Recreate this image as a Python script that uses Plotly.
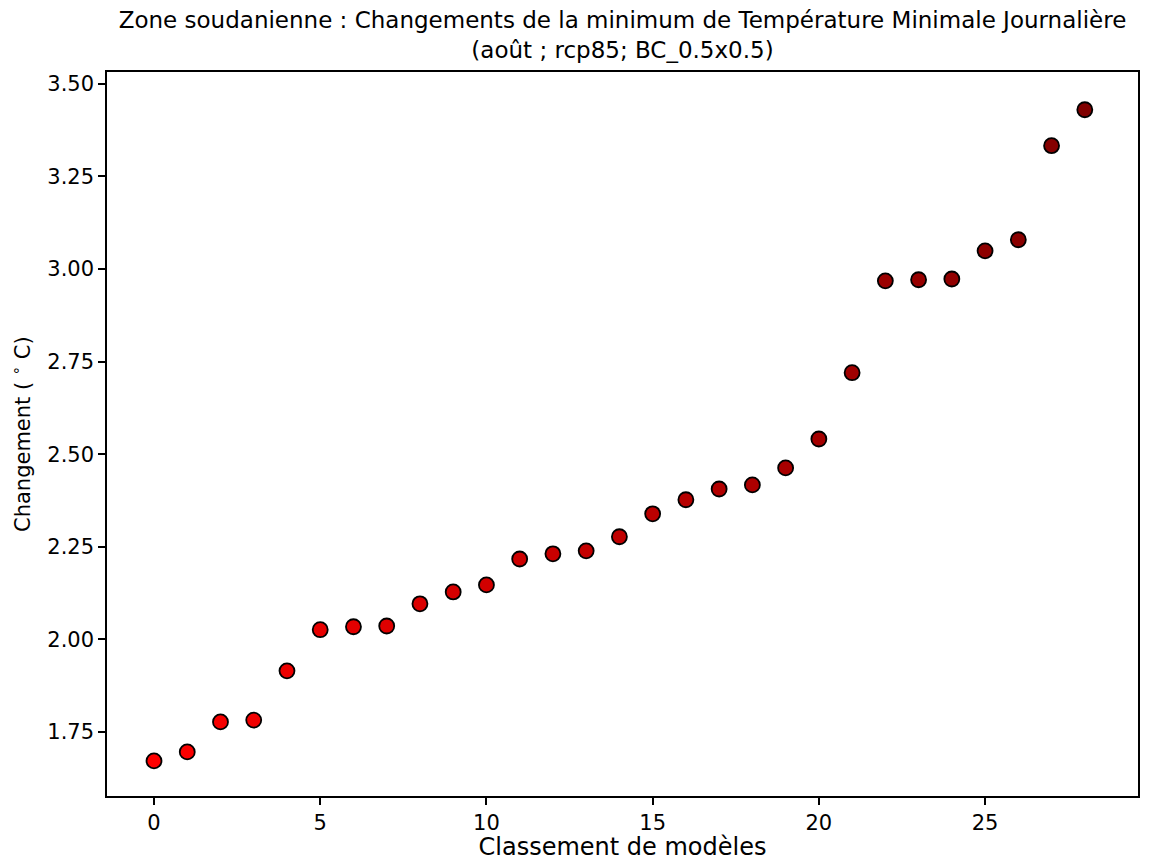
import plotly.graph_objects as go

rang = list(range(29))
changement = [1.672, 1.696, 1.777, 1.782, 1.915, 2.026, 2.034, 2.036, 2.096, 2.128,
              2.147, 2.217, 2.231, 2.239, 2.277, 2.339, 2.377, 2.406, 2.417, 2.463,
              2.541, 2.720, 2.968, 2.971, 2.973, 3.049, 3.079, 3.333, 3.430]

# degrade du rouge vif au rouge sombre
n = len(rang)
couleurs = ["rgb(%d,0,0)" % round(255 - 127 * i / (n - 1)) for i in range(n)]

fig = go.Figure()
fig.add_trace(go.Scatter(x=rang, y=changement, mode="markers",
                         marker=dict(size=15, color=couleurs, line=dict(color="black", width=1.8))))

# la page html ajoute ~8px de marge autour de la figure
W, H = 1143, 853
fig.update_layout(
    width=W, height=H,
    margin=dict(l=99, r=13, t=64, b=65),
    paper_bgcolor="white", plot_bgcolor="white",
    font=dict(family="DejaVu Sans", size=20, color="black"),
    showlegend=False,
    title=dict(text="Zone soudanienne : Changements de la minimum de Température Minimale Journalière<br>(août ; rcp85; BC_0.5x0.5)",
               x=614.5 / W, xanchor="center", y=1 - 20 / H, yanchor="top", font=dict(size=23)),
)
fig.update_xaxes(range=[-1.414, 29.6], tickvals=[0, 5, 10, 15, 20, 25], showgrid=False, zeroline=False,
                 showline=True, linecolor="black", linewidth=1.5, mirror=True, automargin=False,
                 ticks="outside", ticklen=7, tickwidth=1.5, tickcolor="black", tickfont=dict(size=21),
                 title=dict(text="Classement de modèles", standoff=5))
fig.update_yaxes(range=[1.577, 3.532], tickvals=[1.75, 2.0, 2.25, 2.5, 2.75, 3.0, 3.25, 3.5],
                 tickformat=".2f", showgrid=False, zeroline=False, automargin=False,
                 showline=True, linecolor="black", linewidth=1.5, mirror=True,
                 ticks="outside", ticklen=7, tickwidth=1.5, tickcolor="black", tickfont=dict(size=21))
fig.add_annotation(text="Changement ( <sup>∘</sup> C)", xref="paper", yref="paper",
                   x=(13 - 99) / 1031, y=0.5, xanchor="center", yanchor="middle",
                   textangle=-90, showarrow=False, font=dict(size=21))

fig.write_html("out.html")
